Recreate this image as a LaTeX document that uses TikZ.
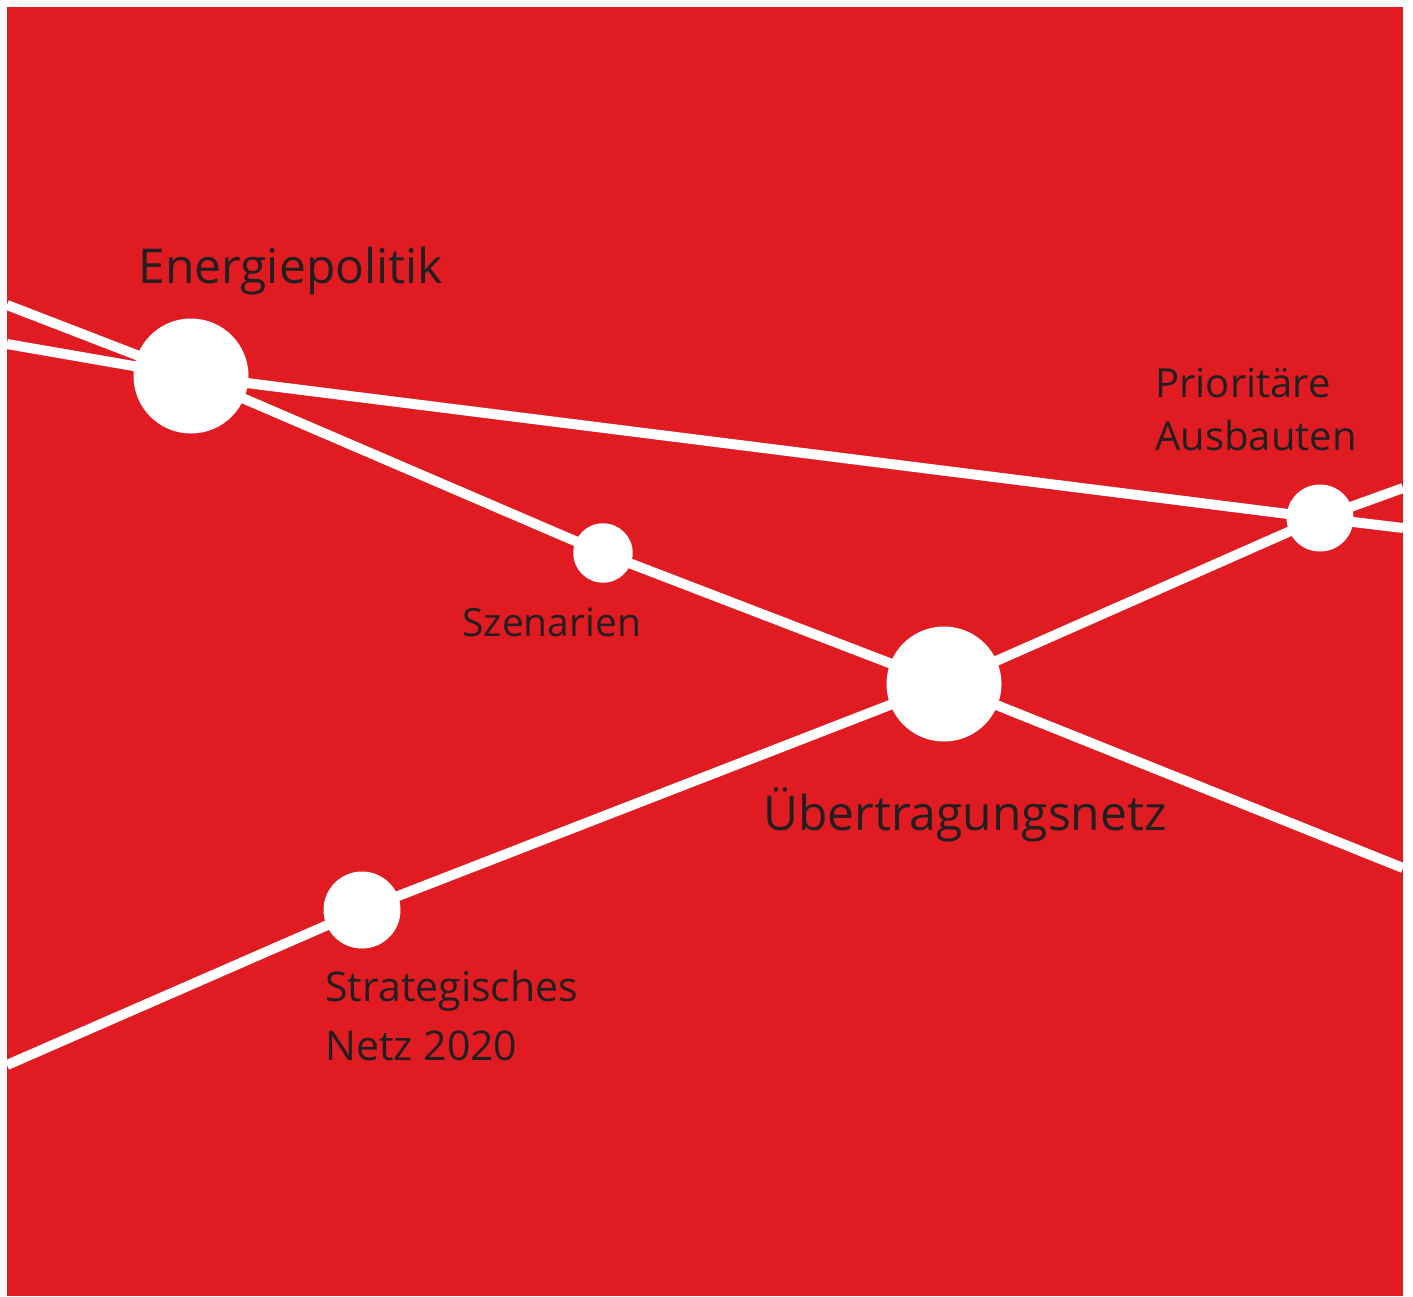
\documentclass[tikz,border=0pt]{standalone}
\usepackage{fontspec}
\setmainfont{Open Sans}
\usepackage{tikz}
\usepackage{xcolor}
\usetikzlibrary{backgrounds}
\definecolor{netzred}{RGB}{225,27,34}
\definecolor{ink}{RGB}{35,31,32}
\tikzstyle{hub} = [circle, fill=white, inner sep=0pt, minimum size=38.5pt]
\tikzstyle{bighub} = [hub, minimum size=57.5pt]
\tikzstyle{smallhub} = [hub, minimum size=29.7pt]
\tikzstyle{line} = [draw=white, line width=5pt]
\tikzstyle{lbl} = [text=ink, inner sep=0pt, anchor=base west, align=left,
font=\fontsize{20}{26.5}\selectfont]
\tikzstyle{biglbl} = [lbl, font=\fontsize{24}{28}\selectfont]

\begin{document}
\begin{tikzpicture}[x=0.5pt, y=-0.5pt]
        \useasboundingbox (0,0) rectangle (1413,1296);

        \node [bighub] (energie) at (191,376) {};
        \node [smallhub] (szen) at (603,553) {};
        \node [bighub] (netz) at (944,684) {};
        \node [hub, minimum size=33.5pt] (prio) at (1320,518) {};
        \node [hub] (strat) at (362,910) {};

        % ends of the lines at the edges
        \coordinate (w1) at (7,305);
        \coordinate (e1) at (1403,868);
        \coordinate (w2) at (7,344);
        \coordinate (e2) at (1403,528);
        \coordinate (w3) at (7,1065);
        \coordinate (e3) at (1403,488);

        % two-line labels sit on their last line
        \node [biglbl] (tenergie) at (138,283) {Energiepolitik};
        \node [lbl] (tprio) at (1155,450) {Prioritäre\\Ausbauten};
        \node [lbl, font=\fontsize{19.5}{24}\selectfont] (tszen) at (462,636) {Szenarien};
        \node [biglbl] (tnetz) at (763,830) {Übertragungsnetz};
        \node [lbl, font=\fontsize{20.5}{29.5}\selectfont] (tstrat) at (325,1060) {Strategisches\\Netz 2020};

        \begin{pgfonlayer}{background}
        \fill [netzred] (7,7) rectangle (1403,1296);
        \path [line] (w1) -- (energie.center) -- (szen.center) -- (netz.center) -- (e1);
        \path [line] (w2) -- (energie.center) -- (prio.center) -- (e2);
        \path [line] (w3) -- (strat.center) -- (netz.center) -- (prio.center) -- (e3);
        \end{pgfonlayer}
      \end{tikzpicture}
\end{document}
